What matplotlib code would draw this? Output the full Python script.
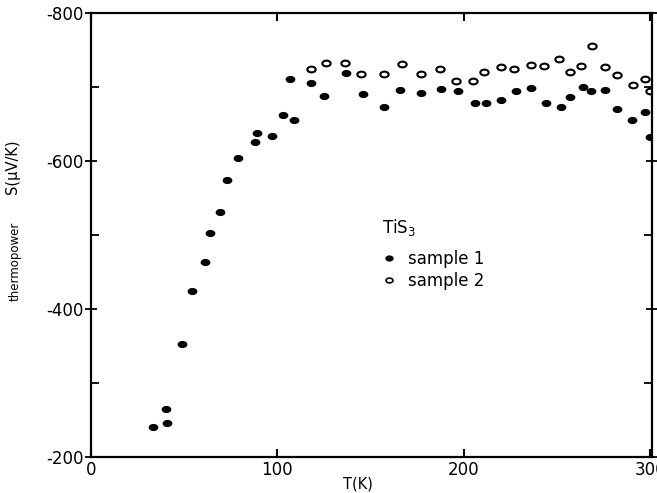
import matplotlib
matplotlib.use("Agg")
import matplotlib.pyplot as plt
from matplotlib.path import Path
from matplotlib.transforms import Affine2D
from matplotlib.lines import Line2D

# sample 1 (filled dots)
s1_T = [33, 40, 41, 49, 54, 61, 64, 69, 73, 79, 88, 89, 97, 103, 107, 109,
        118, 125, 137, 146, 157, 166, 177, 188, 197, 206, 212, 220, 228, 236,
        244, 252, 257, 264, 268, 276, 282, 290, 297, 300]
s1_S = [-240, -265, -246, -353, -424, -464, -503, -531, -574, -604, -626, -638,
        -634, -662, -711, -655, -705, -688, -719, -690, -673, -696, -692, -697,
        -695, -678, -678, -682, -695, -699, -678, -673, -686, -700, -695, -696,
        -670, -655, -666, -632]

# sample 2 (open circles)
s2_T = [118, 126, 136, 145, 157, 167, 177, 187, 196, 205, 211, 220, 227, 236,
        243, 251, 257, 263, 269, 276, 282, 291, 297, 300]
s2_S = [-724, -732, -732, -718, -718, -731, -718, -724, -708, -708, -720, -727,
        -724, -730, -728, -738, -720, -728, -755, -727, -716, -703, -711, -695]

y_major = [-800, -600, -400, -200]
y_minor = [-700, -500, -300]
y_labels = ["-800", "-600", "-400", "-200"]
x_major = [0, 100, 200, 300]
x_labels = ["0", "100", "200", "300"]

plt.rcParams['font.family'] = ['DejaVu Sans']

# slightly flattened dot, like the scanned figure
ell = Path.unit_circle().transformed(Affine2D().scale(1.45, 1.0))

fig = plt.figure(figsize=(6.57, 4.93), dpi=100)
ax = fig.add_axes([0.1385, 0.073, 0.854, 0.9006])

ax.plot(s1_T, s1_S, linestyle='none', marker=ell, markersize=6,
        color='black')
ax.plot(s2_T, s2_S, linestyle='none', marker=ell, markersize=6,
        markerfacecolor='white', markeredgecolor='black', markeredgewidth=1.5)

ax.set_xlim(0, 301)
ax.set_ylim(-200, -800)

ax.set_yticks(y_major)
ax.set_yticklabels(y_labels, fontsize=12)
ax.set_yticks(y_minor, minor=True)
ax.set_xticks(x_major)
ax.set_xticklabels(x_labels, fontsize=12)

ax.tick_params(axis='y', which='major', direction='inout', length=8, width=1.3,
               right=True, pad=1)
ax.tick_params(axis='y', which='minor', direction='in', length=6, width=1.3,
               right=True)
ax.tick_params(axis='x', which='major', direction='in', length=6, width=1.5,
               top=True, pad=3)

for sp in ax.spines.values():
    sp.set_linewidth(1.6)

fig.text(0.545, 0.004, "T(K)", fontsize=10.5, ha='center', va='bottom')

# y label in two pieces like the original
fig.text(0.023, 0.47, "thermopower", rotation=90, fontsize=8.5,
         family='Liberation Sans Narrow', ha='center', va='center')
fig.text(0.019, 0.661, "S(\u03bcV/K)", rotation=90, fontsize=10.5,
         family='Liberation Sans Narrow', ha='center', va='center')

fig.text(0.581, 0.527, "TiS$_3$", fontsize=12, va='baseline')

handles = [Line2D([], [], linestyle='none', marker=ell, markersize=5, color='black'),
           Line2D([], [], linestyle='none', marker=ell, markersize=5,
                  markerfacecolor='white', markeredgecolor='black',
                  markeredgewidth=1.2)]
ax.legend(handles, ["sample 1", "sample 2"], frameon=False, fontsize=12,
          loc='upper left', bbox_to_anchor=(0.580, 0.493),
          bbox_transform=fig.transFigure, borderpad=0, borderaxespad=0,
          handlelength=1.0, handletextpad=0.6, labelspacing=0.22)

fig.savefig("out.png", dpi=100)
